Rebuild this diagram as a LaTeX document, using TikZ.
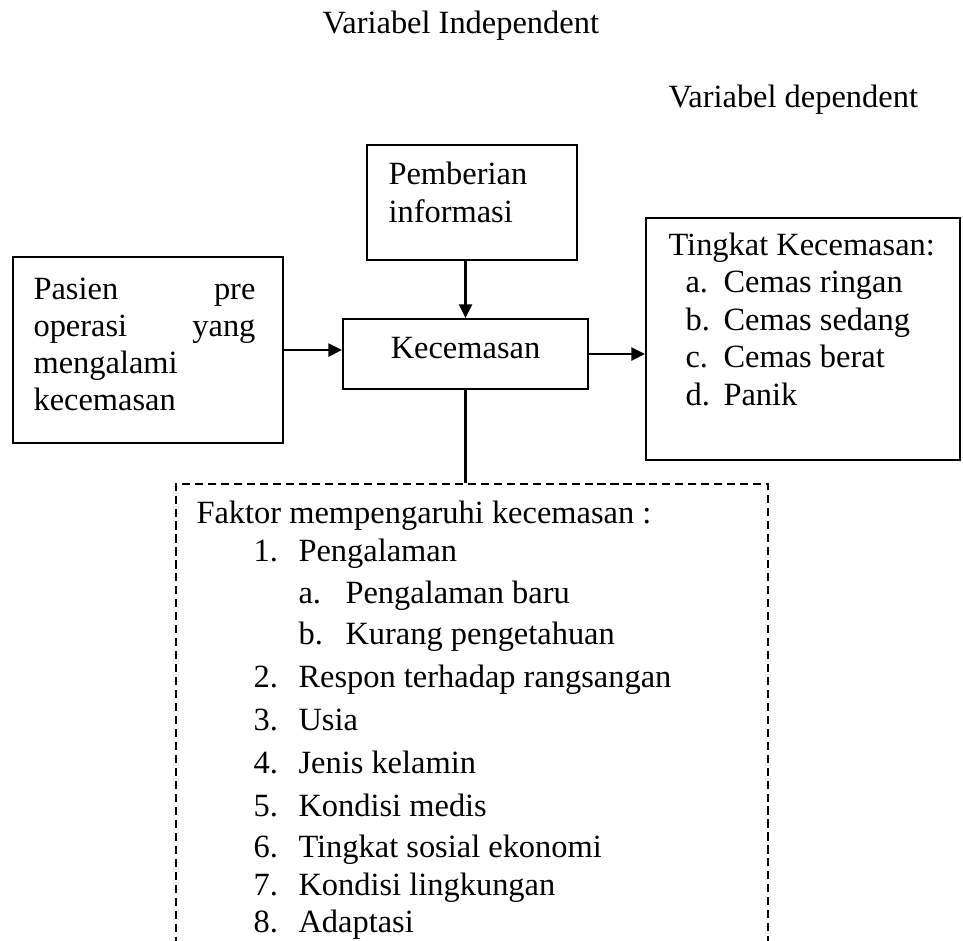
\documentclass[tikz,border=0pt]{standalone}
\usepackage{fontspec}
\setmainfont{Liberation Serif}
\usetikzlibrary{arrows.meta, positioning, fit}

\begin{document}
\begin{tikzpicture}[x=0.37pt, y=-0.37pt,
    kotak/.style={draw, line width=0.75pt, inner sep=0pt},
    putus/.style={draw, line width=0.5pt, dash pattern=on 3pt off 1.8pt, inner sep=0pt},
    teks/.style={anchor=base west, inner sep=0pt, font=\fontsize{12}{13.8}\selectfont},
    panah/.style={line width=0.75pt, -{Triangle[length=5pt, width=4.8pt]}}]
  \useasboundingbox (0,0) rectangle (963,940);
  % judul variabel
  \node[teks] (indep) at (322,33) {Variabel Independent};
  \node[teks] (dep) at (668,107) {Variabel dependent};
  % kotak
  \node[kotak, fit={(13,257) (283,443)}] (pasien) {};
  \node[kotak, fit={(367,145) (577,260)}] (beri) {};
  \node[kotak, fit={(343,319) (588,389)}] (cemas) {};
  \node[kotak, fit={(646,218) (960,460)}] (tingkat) {};
  \node[putus, fit={(176,484) (768,975)}] (faktor) {};
  % isi kotak
  \node[teks] (p1) at (33,299) {\makebox[82.1pt][s]{Pasien pre}};
  \node[teks] (p2) at (33,336) {\makebox[82.1pt][s]{operasi yang}};
  \node[teks] (p3) at (33,373) {mengalami};
  \node[teks] (p4) at (33,410) {kecemasan};
  \node[teks] (b1) at (388,184) {Pemberian};
  \node[teks] (b2) at (388,222) {informasi};
  \node[teks, anchor=base] (c1) at (465.5,358) {Kecemasan};
  \node[teks] (t0) at (668,255) {Tingkat Kecemasan:};
  \foreach \nomor/\isi [count=\n] in {a/Cemas ringan, b/Cemas sedang, c/Cemas berat, d/Panik}{
    \node[teks] (th\n) at (685,{255+37.5*\n}) {\nomor.};
    \node[teks] (ti\n) at (723,{255+37.5*\n}) {\isi};
  }
  % faktor
  \node[teks] (f0) at (196,523) {Faktor mempengaruhi kecemasan :};
  \foreach \y/\nomor/\isi [count=\n] in {561/1/Pengalaman, 687/2/Respon terhadap rangsangan,
      730/3/Usia, 773/4/Jenis kelamin, 816/5/Kondisi medis,
      857/6/Tingkat sosial ekonomi, 895/7/Kondisi lingkungan, 932/8/Adaptasi}{
    \node[teks] (fh\n) at (253,\y) {\nomor.};
    \node[teks] (fi\n) at (298,\y) {\isi};
  }
  \foreach \y/\nomor/\isi [count=\n] in {603/a/Pengalaman baru, 644/b/Kurang pengetahuan}{
    \node[teks] (sh\n) at (298,\y) {\nomor.};
    \node[teks] (si\n) at (345,\y) {\isi};
  }
  % panah
  \draw[panah] (pasien.east) -- (pasien.east -| cemas.west);
  \draw[panah] (cemas.east) -- (cemas.east -| tingkat.west);
  \draw[panah] (beri.south -| cemas.north) -- (cemas.north);
  \draw[line width=0.75pt] (cemas.south) -- (cemas.south |- faktor.north);
\end{tikzpicture}
\end{document}
